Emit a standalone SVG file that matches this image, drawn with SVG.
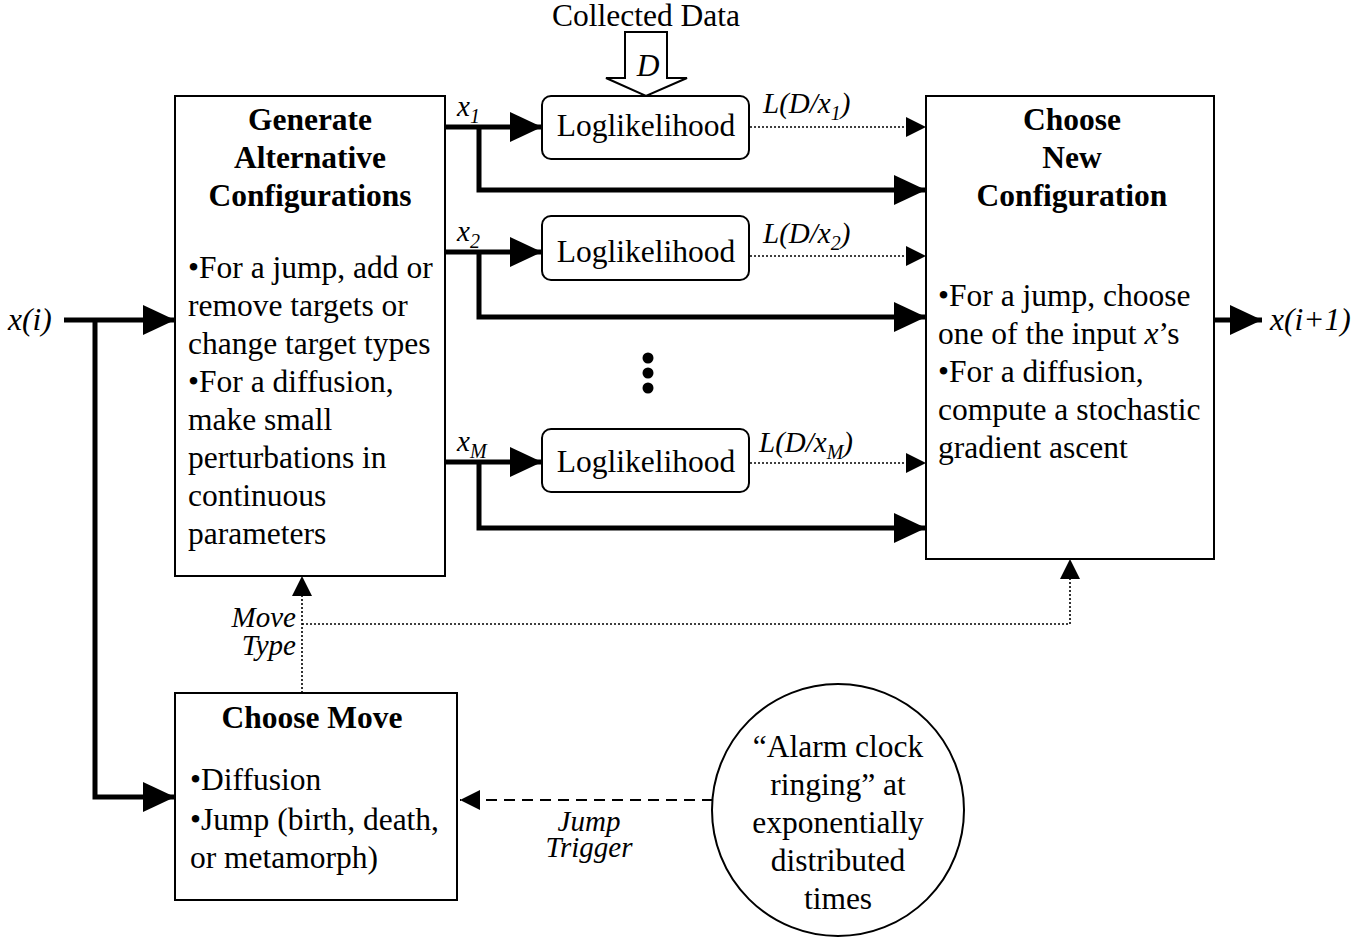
<svg xmlns="http://www.w3.org/2000/svg" width="1366" height="938" viewBox="0 0 1366 938">
<style>
.t{font-family:"Liberation Serif","Times New Roman",serif;font-size:31.5px;fill:#000}
.lb{font-size:29px}
.b{font-weight:bold}
.i{font-style:italic}
.c{text-anchor:middle}
.box{fill:#fff;stroke:#000;stroke-width:2}
.thick{fill:none;stroke:#000;stroke-width:5}
.dot{fill:none;stroke:#000;stroke-width:1.6;stroke-dasharray:2,2}
.dash{fill:none;stroke:#000;stroke-width:2;stroke-dasharray:11,7}
</style>
<defs>
<marker id="big" markerUnits="userSpaceOnUse" markerWidth="32" markerHeight="30" refX="32" refY="15" orient="auto"><path d="M0,0 L32,15 L0,30 z" fill="#000"/></marker>
<marker id="small" markerUnits="userSpaceOnUse" markerWidth="20" markerHeight="20" refX="20" refY="10" orient="auto"><path d="M0,0 L20,10 L0,20 z" fill="#000"/></marker>
</defs>
<rect width="1366" height="938" fill="#fff"/>

<g id="connectors">
<path class="thick" d="M64,320 H175" marker-end="url(#big)"/>
<path class="thick" d="M95,320 V797 H175" marker-end="url(#big)"/>
<path class="thick" d="M445,127 H542" marker-end="url(#big)"/>
<path class="thick" d="M479,127 V190 H926" marker-end="url(#big)"/>
<path class="thick" d="M445,252 H542" marker-end="url(#big)"/>
<path class="thick" d="M479,252 V317 H926" marker-end="url(#big)"/>
<path class="thick" d="M445,462 H542" marker-end="url(#big)"/>
<path class="thick" d="M479,462 V528 H926" marker-end="url(#big)"/>
<path class="dot" d="M750,127 H926" marker-end="url(#small)"/>
<path class="dot" d="M750,256 H926" marker-end="url(#small)"/>
<path class="dot" d="M750,463 H926" marker-end="url(#small)"/>
<path class="thick" d="M1214,320 H1262" marker-end="url(#big)"/>
<path class="dot" d="M302,693 V576" marker-end="url(#small)"/>
<path class="dot" d="M302,624 H1070 V559" marker-end="url(#small)"/>
<path class="dash" d="M713,800 H460" marker-end="url(#small)"/>
<path d="M625,32 V78 H606 L646,96 L687,78 H667 V32 z" fill="#fff" stroke="#000" stroke-width="2"/>
</g>

<g id="generate">
<rect class="box" x="175" y="96" width="270" height="480"/>
<text class="t b c" x="310" y="130">Generate</text>
<text class="t b c" x="310" y="168">Alternative</text>
<text class="t b c" x="310" y="206">Configurations</text>
<text class="t" x="188" y="278">•For a jump, add or</text>
<text class="t" x="188" y="316">remove targets or</text>
<text class="t" x="188" y="354">change target types</text>
<text class="t" x="188" y="392">•For a diffusion,</text>
<text class="t" x="188" y="430">make small</text>
<text class="t" x="188" y="468">perturbations in</text>
<text class="t" x="188" y="506">continuous</text>
<text class="t" x="188" y="544">parameters</text>
</g>

<g id="choose-config">
<rect class="box" x="926" y="96" width="288" height="463"/>
<text class="t b c" x="1072" y="130">Choose</text>
<text class="t b c" x="1072" y="168">New</text>
<text class="t b c" x="1072" y="206">Configuration</text>
<text class="t" x="938" y="306">•For a jump, choose</text>
<text class="t" x="938" y="344">one of the input <tspan class="i">x</tspan>’s</text>
<text class="t" x="938" y="382">•For a diffusion,</text>
<text class="t" x="938" y="420">compute a stochastic</text>
<text class="t" x="938" y="458">gradient ascent</text>
</g>

<g id="loglik1">
<rect class="box" x="542" y="96" width="207" height="63" rx="9"/>
<text class="t c" x="646" y="136">Loglikelihood</text>
</g>
<g id="loglik2">
<rect class="box" x="542" y="216" width="207" height="64" rx="9"/>
<text class="t c" x="646" y="262">Loglikelihood</text>
</g>
<g id="loglikM">
<rect class="box" x="542" y="429" width="207" height="63" rx="9"/>
<text class="t c" x="646" y="472">Loglikelihood</text>
</g>

<g id="dots">
<circle cx="648" cy="358" r="5.5"/>
<circle cx="648" cy="373" r="5.5"/>
<circle cx="648" cy="388" r="5.5"/>
</g>

<g id="choose-move">
<rect class="box" x="175" y="693" width="282" height="207"/>
<text class="t b c" x="312" y="728">Choose Move</text>
<text class="t" x="190" y="790">•Diffusion</text>
<text class="t" x="190" y="830">•Jump (birth, death,</text>
<text class="t" x="190" y="868">or metamorph)</text>
</g>

<g id="alarm">
<circle cx="838" cy="810" r="126" fill="#fff" stroke="#000" stroke-width="2"/>
<text class="t c" x="838" y="757">“Alarm clock</text>
<text class="t c" x="838" y="795">ringing” at</text>
<text class="t c" x="838" y="833">exponentially</text>
<text class="t c" x="838" y="871">distributed</text>
<text class="t c" x="838" y="909">times</text>
</g>

<g id="labels">
<text class="t c" x="646" y="26">Collected Data</text>
<text class="t i c" x="648" y="76">D</text>
<text class="t i" x="8" y="330">x(i)</text>
<text class="t i" x="1270" y="330">x(i+1)</text>
<text class="t i lb" x="457" y="116">x<tspan font-size="20" dy="7">1</tspan></text>
<text class="t i lb" x="457" y="241">x<tspan font-size="20" dy="7">2</tspan></text>
<text class="t i lb" x="457" y="451">x<tspan font-size="20" dy="7">M</tspan></text>
<text class="t i lb" x="763" y="113">L(D/x<tspan font-size="20" dy="7">1</tspan><tspan dy="-7">)</tspan></text>
<text class="t i lb" x="763" y="243">L(D/x<tspan font-size="20" dy="7">2</tspan><tspan dy="-7">)</tspan></text>
<text class="t i lb" x="759" y="452">L(D/x<tspan font-size="20" dy="7">M</tspan><tspan dy="-7">)</tspan></text>
<text class="t i lb" text-anchor="end" x="296" y="627">Move</text>
<text class="t i lb" text-anchor="end" x="296" y="655">Type</text>
<text class="t i lb c" x="589" y="831">Jump</text>
<text class="t i lb c" x="589" y="857">Trigger</text>
</g>
</svg>
